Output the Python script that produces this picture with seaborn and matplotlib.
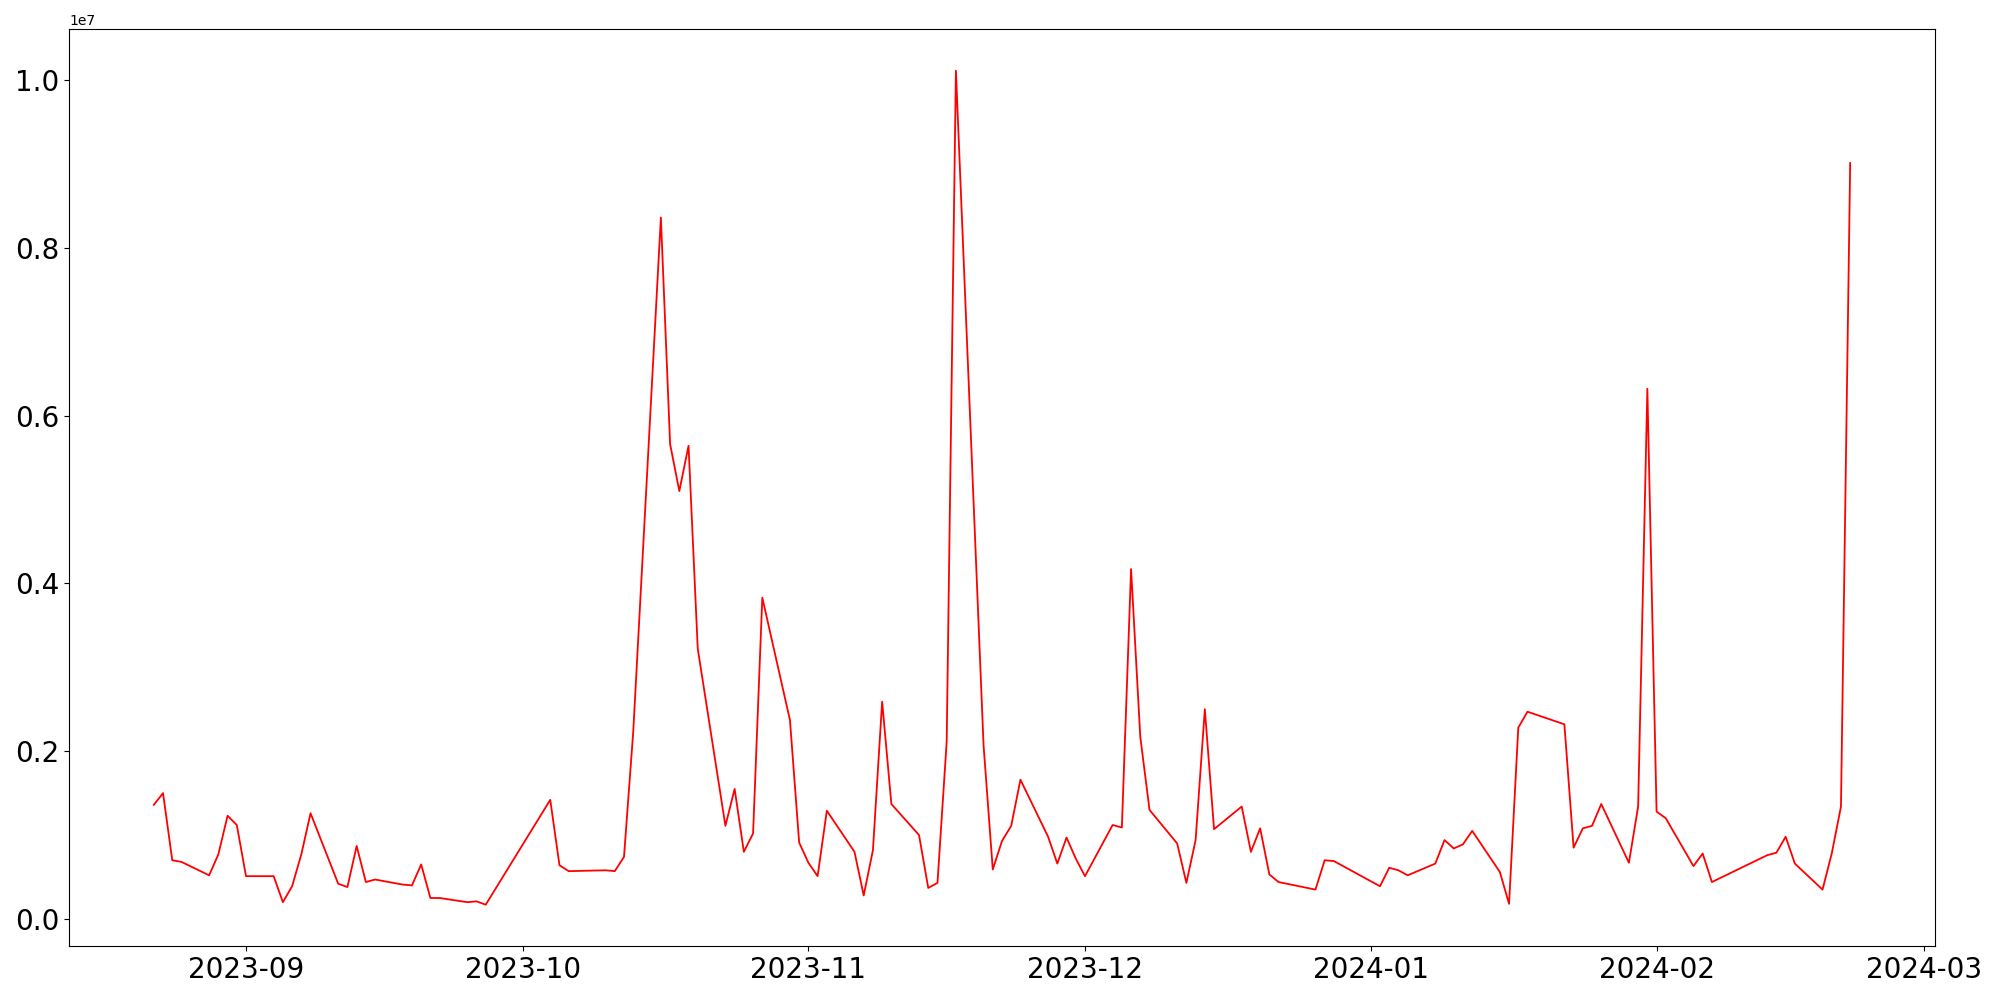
import pandas as pd
import seaborn as sns
import matplotlib.pyplot as plt

dates = ['2023-08-22', '2023-08-23', '2023-08-24', '2023-08-25', '2023-08-28', '2023-08-29',
         '2023-08-30', '2023-08-31', '2023-09-01', '2023-09-04', '2023-09-05', '2023-09-06',
         '2023-09-07', '2023-09-08', '2023-09-11', '2023-09-12', '2023-09-13', '2023-09-14',
         '2023-09-15', '2023-09-18', '2023-09-19', '2023-09-20', '2023-09-21', '2023-09-22',
         '2023-09-25', '2023-09-26', '2023-09-27', '2023-10-04', '2023-10-05', '2023-10-06',
         '2023-10-10', '2023-10-11', '2023-10-12', '2023-10-13', '2023-10-16', '2023-10-17',
         '2023-10-18', '2023-10-19', '2023-10-20', '2023-10-23', '2023-10-24', '2023-10-25',
         '2023-10-26', '2023-10-27', '2023-10-30', '2023-10-31', '2023-11-01', '2023-11-02',
         '2023-11-03', '2023-11-06', '2023-11-07', '2023-11-08', '2023-11-09', '2023-11-10',
         '2023-11-13', '2023-11-14', '2023-11-15', '2023-11-16', '2023-11-17', '2023-11-20',
         '2023-11-21', '2023-11-22', '2023-11-23', '2023-11-24', '2023-11-27', '2023-11-28',
         '2023-11-29', '2023-11-30', '2023-12-01', '2023-12-04', '2023-12-05', '2023-12-06',
         '2023-12-07', '2023-12-08', '2023-12-11', '2023-12-12', '2023-12-13', '2023-12-14',
         '2023-12-15', '2023-12-18', '2023-12-19', '2023-12-20', '2023-12-21', '2023-12-22',
         '2023-12-26', '2023-12-27', '2023-12-28', '2024-01-02', '2024-01-03', '2024-01-04',
         '2024-01-05', '2024-01-08', '2024-01-09', '2024-01-10', '2024-01-11', '2024-01-12',
         '2024-01-15', '2024-01-16', '2024-01-17', '2024-01-18', '2024-01-22', '2024-01-23',
         '2024-01-24', '2024-01-25', '2024-01-26', '2024-01-29', '2024-01-30', '2024-01-31',
         '2024-02-01', '2024-02-02', '2024-02-05', '2024-02-06', '2024-02-07', '2024-02-13',
         '2024-02-14', '2024-02-15', '2024-02-16', '2024-02-19', '2024-02-20', '2024-02-21',
         '2024-02-22']

# values in millions
values_m = [1.36, 1.50, 0.70, 0.68, 0.52, 0.77,
            1.23, 1.12, 0.51, 0.51, 0.20, 0.39,
            0.77, 1.26, 0.42, 0.38, 0.87, 0.44,
            0.47, 0.41, 0.40, 0.65, 0.25, 0.25,
            0.20, 0.21, 0.17, 1.42, 0.64, 0.57,
            0.58, 0.57, 0.74, 2.23, 8.36, 5.66,
            5.10, 5.64, 3.22, 1.11, 1.55, 0.80,
            1.02, 3.83, 2.37, 0.91, 0.67, 0.51,
            1.29, 0.80, 0.28, 0.82, 2.59, 1.37,
            1.00, 0.37, 0.43, 2.11, 10.11, 2.07,
            0.59, 0.93, 1.11, 1.66, 0.98, 0.66,
            0.97, 0.72, 0.51, 1.12, 1.09, 4.17,
            2.17, 1.30, 0.90, 0.43, 0.94, 2.50,
            1.07, 1.34, 0.80, 1.08, 0.53, 0.44,
            0.35, 0.70, 0.69, 0.39, 0.61, 0.58,
            0.52, 0.66, 0.94, 0.84, 0.89, 1.05,
            0.56, 0.18, 2.28, 2.47, 2.32, 0.85,
            1.08, 1.11, 1.37, 0.67, 1.34, 6.32,
            1.28, 1.20, 0.63, 0.78, 0.44, 0.76,
            0.79, 0.98, 0.66, 0.35, 0.78, 1.34,
            9.01]

df = pd.DataFrame({'date': pd.to_datetime(dates),
                   'value': [v * 1e6 for v in values_m]})

fig, ax = plt.subplots(figsize=(20, 10), dpi=100)
sns.lineplot(x='date', y='value', data=df, color='red', linewidth=1.3, ax=ax)
ax.set_xlabel('')
ax.set_ylabel('')
ax.tick_params(axis='both', labelsize=20)
plt.subplots_adjust(left=0.0345, right=0.9675, top=0.971, bottom=0.0536)
plt.savefig('out.png', dpi=100)
